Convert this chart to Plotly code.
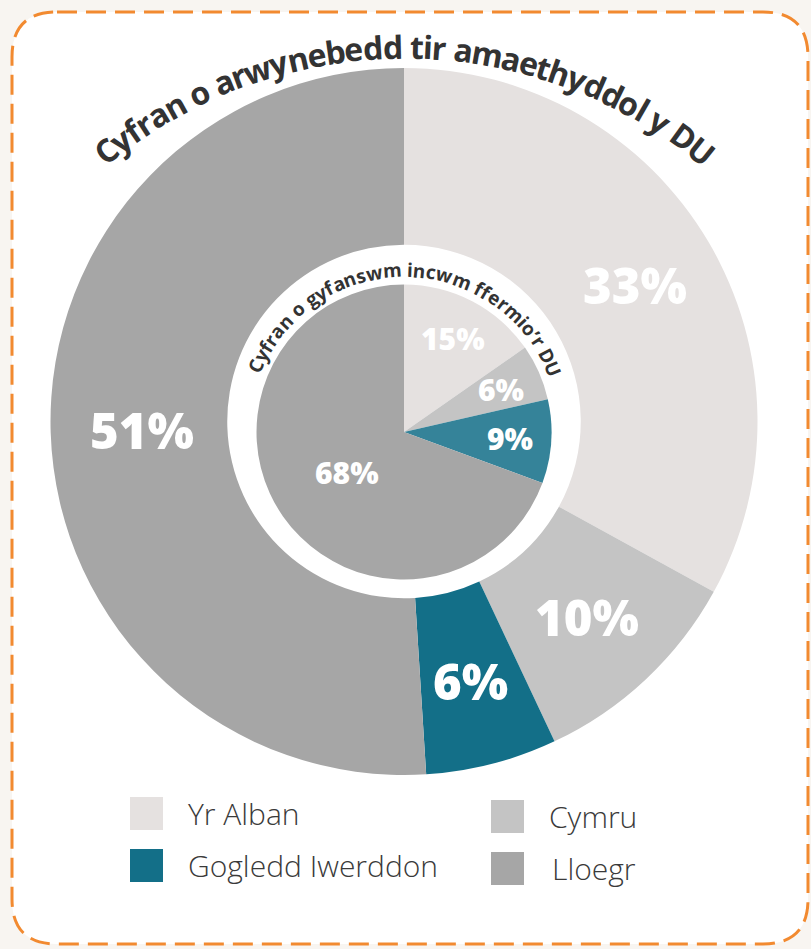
import math
import plotly.graph_objects as go

# ── Data ──────────────────────────────────────────────────────────────────────
regions      = ["Yr Alban", "Cymru", "Gogledd Iwerddon", "Lloegr"]
land_share   = [33, 10, 6, 51]     # outer ring: share of UK agricultural area (%)
income_share = [15, 6, 9, 68]     # inner pie: share of UK farming income (%)

outer_colors = ["#e5e1e0", "#c4c4c4", "#136f88", "#a6a6a6"]
inner_colors = ["#e5e1e0", "#c4c4c4", "#358399", "#a6a6a6"]

outer_title = "Cyfran o arwynebedd tir amaethyddol y DU"
inner_title = "Cyfran o gyfanswm incwm ffermio’r DU"

legend_order = ["Yr Alban", "Gogledd Iwerddon", "Cymru", "Lloegr"]

# ── Canvas helpers ────────────────────────────────────────────────────────────
W, H = 811, 949
FONT = "Open Sans"
DARK = "#333333"

OUTER = (404, 421.5, 353.5)   # cx, cy, r  (pixels)
INNER = (404, 432, 147.5)


def paper(x, y):
    """pixel (from top-left) -> paper coords"""
    return x / W, 1 - y / H


def dom(cx, cy, r):
    return dict(x=[(cx - r) / W, (cx + r) / W], y=[1 - (cy + r) / H, 1 - (cy - r) / H])


def polar(cx, cy, r, ang):
    t = math.radians(ang)
    return paper(cx + r * math.sin(t), cy - r * math.cos(t))


# rough Open Sans Bold advance widths (em)
_W = dict(
    C=.63, D=.72, U=.71, a=.60, b=.64, c=.52, d=.64, e=.60, f=.40, g=.56, h=.66,
    i=.30, l=.30, m=.98, n=.66, o=.62, r=.45, s=.50, t=.42, w=.87, y=.58,
)
_W[" "] = .26
_W["’"] = .24


def curved_text(text, cx, cy, r, a0, a1, size):
    """One annotation per glyph along an arc (deg, clockwise from 12 o'clock)."""
    widths = [_W.get(ch, .6) for ch in text]
    centers, acc = [], 0.0
    for w in widths:
        centers.append(acc + w / 2)
        acc += w
    s0, s1 = centers[0], centers[-1]
    anns = []
    for ch, s in zip(text, centers):
        if ch == " ":
            continue
        ang = a0 + (s - s0) / (s1 - s0) * (a1 - a0)
        x, y = polar(cx, cy, r, ang)
        anns.append(dict(
            x=x, y=y, xref="paper", yref="paper", text=ch, showarrow=False,
            xanchor="center", yanchor="middle", textangle=ang,
            font=dict(family=FONT, size=size, color=DARK, weight=700),
        ))
    return anns


def slice_labels(values, cx, cy, r_small, r_big, size):
    """value labels at the mid-angle of each clockwise slice"""
    total = float(sum(values))
    anns, start = [], 0.0
    for v in values:
        span = v / total * 360
        mid = start + span / 2
        start += span
        r = r_big if v / total > 0.5 else r_small
        x, y = polar(cx, cy, r, mid)
        anns.append(dict(
            x=x, y=y, xref="paper", yref="paper", text=f"{v}%", showarrow=False,
            xanchor="center", yanchor="middle",
            font=dict(family=FONT, size=size, color="white", weight=800),
        ))
    return anns


# ── Figure ────────────────────────────────────────────────────────────────────
fig = go.Figure()

fig.add_trace(go.Pie(
    values=land_share, labels=regions,
    marker=dict(colors=outer_colors, line=dict(width=0)),
    sort=False, direction="clockwise", rotation=0, hole=0.5,
    domain=dom(*OUTER), textinfo="none",
    hoverinfo="label+percent", showlegend=False,
))

fig.add_trace(go.Pie(
    values=income_share, labels=regions,
    marker=dict(colors=inner_colors, line=dict(width=0)),
    sort=False, direction="clockwise", rotation=0,
    domain=dom(*INNER), textinfo="none",
    hoverinfo="label+percent", showlegend=False,
))

# rounded dashed frame
x0, y0, x1, y1, rr = 12, 12, 808, 944, 45
pts = [
    ("M", (x0 + rr, y0)), ("L", (x1 - rr, y0)), ("Q", (x1, y0), (x1, y0 + rr)),
    ("L", (x1, y1 - rr)), ("Q", (x1, y1), (x1 - rr, y1)), ("L", (x0 + rr, y1)),
    ("Q", (x0, y1), (x0, y1 - rr)), ("L", (x0, y0 + rr)), ("Q", (x0, y0), (x0 + rr, y0)),
]
path = ""
for cmd, *ps in pts:
    path += cmd + " ".join("%.5f,%.5f" % paper(*p) for p in ps) + " "
path += "Z"

shapes = [dict(
    type="path", path=path, xref="paper", yref="paper", layer="below",
    fillcolor="white", line=dict(color="#f28a30", width=3, dash="20px,9px"),
)]

annotations = []
annotations += slice_labels(land_share, OUTER[0], OUTER[1], 268, 262, 49)
annotations += slice_labels(income_share, INNER[0], INNER[1], 106, 70, 30)
annotations += curved_text(outer_title, 404, 523, 477, -38.7, 38.6, 32)
annotations += curved_text(inner_title, 404, 432, 162, -66, 67, 19)

# legend (2 x 2)
legend_pos = {
    "Yr Alban":         (130, 797, 186),
    "Gogledd Iwerddon": (130, 849, 186),
    "Cymru":            (491, 800, 547),
    "Lloegr":           (491, 852, 550),
}
for name in legend_order:
    sx, sy, tx = legend_pos[name]
    col = outer_colors[regions.index(name)]
    ax0, ay0 = paper(sx, sy)
    ax1, ay1 = paper(sx + 33, sy + 33)
    shapes.append(dict(type="rect", xref="paper", yref="paper", x0=ax0, x1=ax1,
                       y0=ay1, y1=ay0, fillcolor=col, line=dict(width=0)))
    lx, ly = paper(tx, sy + 16)
    annotations.append(dict(
        x=lx, y=ly, xref="paper", yref="paper", text=name, showarrow=False,
        xanchor="left", yanchor="middle",
        font=dict(family=FONT, size=30, color="#3a3a3a", weight=300),
    ))

fig.update_layout(
    width=W, height=H,
    margin=dict(l=0, r=0, t=0, b=0),
    paper_bgcolor="#f8f5f1",
    plot_bgcolor="#f8f5f1",
    showlegend=False,
    shapes=shapes,
    annotations=annotations,
)

fig.write_html(
    "out.html",
    config={"displayModeBar": False},
    post_script="document.body.style.margin='0px';",
)
